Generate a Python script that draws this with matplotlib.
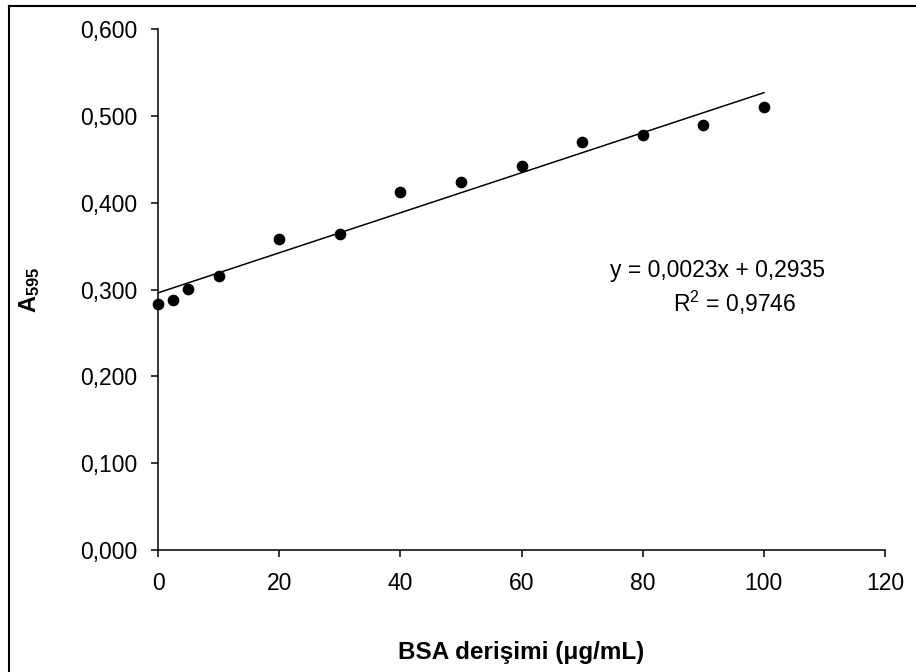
import matplotlib
matplotlib.use('Agg')
import matplotlib.pyplot as plt
from matplotlib.lines import Line2D
import numpy as np

# BSA standard curve data
conc = [0, 2.5, 5, 10, 20, 30, 40, 50, 60, 70, 80, 90, 100]
absorb = [0.283, 0.288, 0.301, 0.316, 0.358, 0.364, 0.412, 0.424, 0.443, 0.470, 0.478, 0.490, 0.511]
x_ticks = [0, 20, 40, 60, 80, 100, 120]
y_ticks = [0.0, 0.1, 0.2, 0.3, 0.4, 0.5, 0.6]
eq_text = 'y = 0,0023x + 0,2935'
r2_text = 'R$^2$ = 0,9746'

plt.rcParams['font.family'] = ['Liberation Sans', 'DejaVu Sans']
plt.rcParams['mathtext.fontset'] = 'custom'
plt.rcParams['mathtext.rm'] = 'Liberation Sans'
plt.rcParams['mathtext.bf'] = 'Liberation Sans:bold'

fig = plt.figure(figsize=(9.16, 6.72), dpi=100)
ax = fig.add_axes([0.1725, 0.1815, 0.9662 - 0.1725, 0.9564 - 0.1815])

# trendline (linear fit over data range)
k, b = np.polyfit(conc, absorb, 1)
xs = np.array([min(conc), max(conc)])
ax.plot(xs, k * xs + b, color='black', lw=1.1)
ax.plot(conc, absorb, 'o', color='black', ms=7.4, clip_on=False)

ax.set_xlim(0, 120)
ax.set_ylim(0, 0.6)
ax.set_xticks(x_ticks)
ax.set_yticks(y_ticks)
ax.set_xticklabels([str(v) for v in x_ticks])
ax.set_yticklabels([('%.3f' % v).replace('.', ',') for v in y_ticks])

for s in ['top', 'right']:
    ax.spines[s].set_visible(False)
for s in ['left', 'bottom']:
    ax.spines[s].set_linewidth(1.1)
ax.tick_params(axis='both', direction='out', length=5, width=1.1, labelsize=16.5)
ax.tick_params(axis='x', pad=11)
ax.tick_params(axis='y', pad=10)

ax.set_xlabel('BSA derişimi (μg/mL)', fontsize=17.5, fontweight='bold')
ax.xaxis.set_label_coords(0.5, -0.175)
ax.set_ylabel(r'$\mathbf{A_{595}}$', fontsize=17)
ax.yaxis.set_label_coords(-0.16, 0.5)

fig.text(0.783, 0.598, eq_text, ha='center', va='center', fontsize=16.5)
fig.text(0.802, 0.549, r2_text, ha='center', va='center', fontsize=16.5)

# chart frame (only top and left edges visible in the crop)
fig.add_artist(Line2D([9 / 916, 9 / 916], [0, 1 - 6 / 672], color='black', lw=1.5, transform=fig.transFigure))
fig.add_artist(Line2D([9 / 916, 1], [1 - 6 / 672, 1 - 6 / 672], color='black', lw=1.5, transform=fig.transFigure))

fig.savefig('out.png', dpi=100)
